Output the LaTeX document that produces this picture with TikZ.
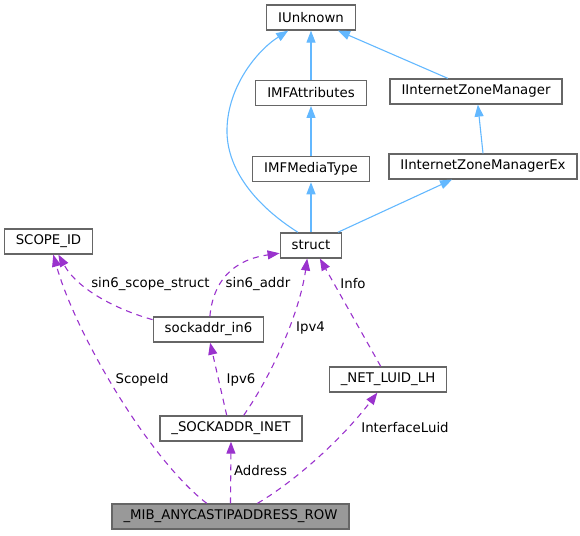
\documentclass[tikz,border=0pt]{standalone}
\usepackage{fontspec}
\setmainfont{DejaVu Sans}
\usepackage{xcolor}
\usetikzlibrary{arrows.meta,positioning}
\definecolor{edgeblue}{HTML}{63B8FF}
\definecolor{edgepurple}{HTML}{9A32CD}
\definecolor{boxgray}{HTML}{666666}
\definecolor{rootfill}{HTML}{999999}

\begin{document}
\begin{tikzpicture}[
    x=1pt, y=-1pt,
    node distance=49pt,
    every node/.style={font=\fontsize{13.3}{16}\selectfont},
    cls/.style={draw=boxgray, line width=1.3pt, fill=white,
        minimum height=25pt, inner xsep=11.5pt, inner ysep=0pt},
    root/.style={cls, fill=rootfill},
    inherit/.style={-{Triangle[length=12pt,width=9pt]}, draw=edgeblue, line width=1.1pt},
    usage/.style={-{Triangle[length=12pt,width=9pt]}, draw=edgepurple, line width=1.1pt,
        dash pattern=on 6pt off 5pt},
    lbl/.style={inner sep=1pt}
]
\useasboundingbox (0,0) rectangle (580,535);
% class boxes
\node[cls] (iunknown) at (311,17.5) {IUnknown};
\node[cls, below=of iunknown] (imfattr) {IMFAttributes};
\node[cls, below=50pt of imfattr] (imfmedia) {IMFMediaType};
\node[cls, below=50pt of imfmedia] (struct) {struct};
\node[cls] (izm) at (476,91.5) {IInternetZoneManager};
\node[cls] (izmex) at (483,166.5) {IInternetZoneManagerEx};
\node[cls] (scopeid) at (48.5,241.5) {SCOPE\_ID};
\node[cls] (sockin6) at (208.5,329.5) {sockaddr\_in6};
\node[cls] (netluid) at (388,379.5) {\_NET\_LUID\_LH};
\node[cls] (sockinet) at (231,428.5) {\_SOCKADDR\_INET};
\node[root] (mib) at (230.5,516.5) {\_MIB\_ANYCASTIPADDRESS\_ROW};
% edge labels
\node[lbl] (lscopestruct) at (150.5,284) {sin6\_scope\_struct};
\node[lbl] (lsinaddr) at (258,284) {sin6\_addr};
\node[lbl] (linfo) at (353,284) {Info};
\node[lbl] (lipv4) at (310.5,328) {Ipv4};
\node[lbl] (lscopeid) at (142,380) {ScopeId};
\node[lbl] (lipv6) at (241,380) {Ipv6};
\node[lbl] (lluid) at (405,428) {InterfaceLuid};
\node[lbl] (laddress) at (260.5,471) {Address};
% inheritance
\draw[inherit] (imfattr) -- (iunknown);
\draw[inherit] (izm.155) -- (iunknown.334);
\draw[inherit] (struct.135) .. controls (255,205) and (228,170) .. (227,133)
    .. controls (226,90) and (255,52) .. (iunknown.210);
\draw[inherit] (imfmedia) -- (imfattr);
\draw[inherit] (izmex.north) -- (izm.278);
\draw[inherit] (struct) -- (imfmedia);
\draw[inherit] (struct.26) -- (izmex.203);
% members
\draw[usage] (sockin6.84) .. controls (213,282) and (232,260) .. (struct.194);
\draw[usage] (sockin6.170) .. controls (118,310) and (78,290) .. (scopeid.307);
\draw[usage] (mib.151) .. controls (150,460) and (76,335) .. (scopeid.290);
\draw[usage] (sockinet.108) -- (sockin6.277);
\draw[usage] (sockinet.46) .. controls (275,370) and (300,310) .. (struct.254);
\draw[usage] (netluid.119) -- (struct.304);
\draw[usage] (mib.north) -- (sockinet.south);
\draw[usage] (mib.26) .. controls (300,478) and (345,435) .. (netluid.231);
\end{tikzpicture}
\end{document}
